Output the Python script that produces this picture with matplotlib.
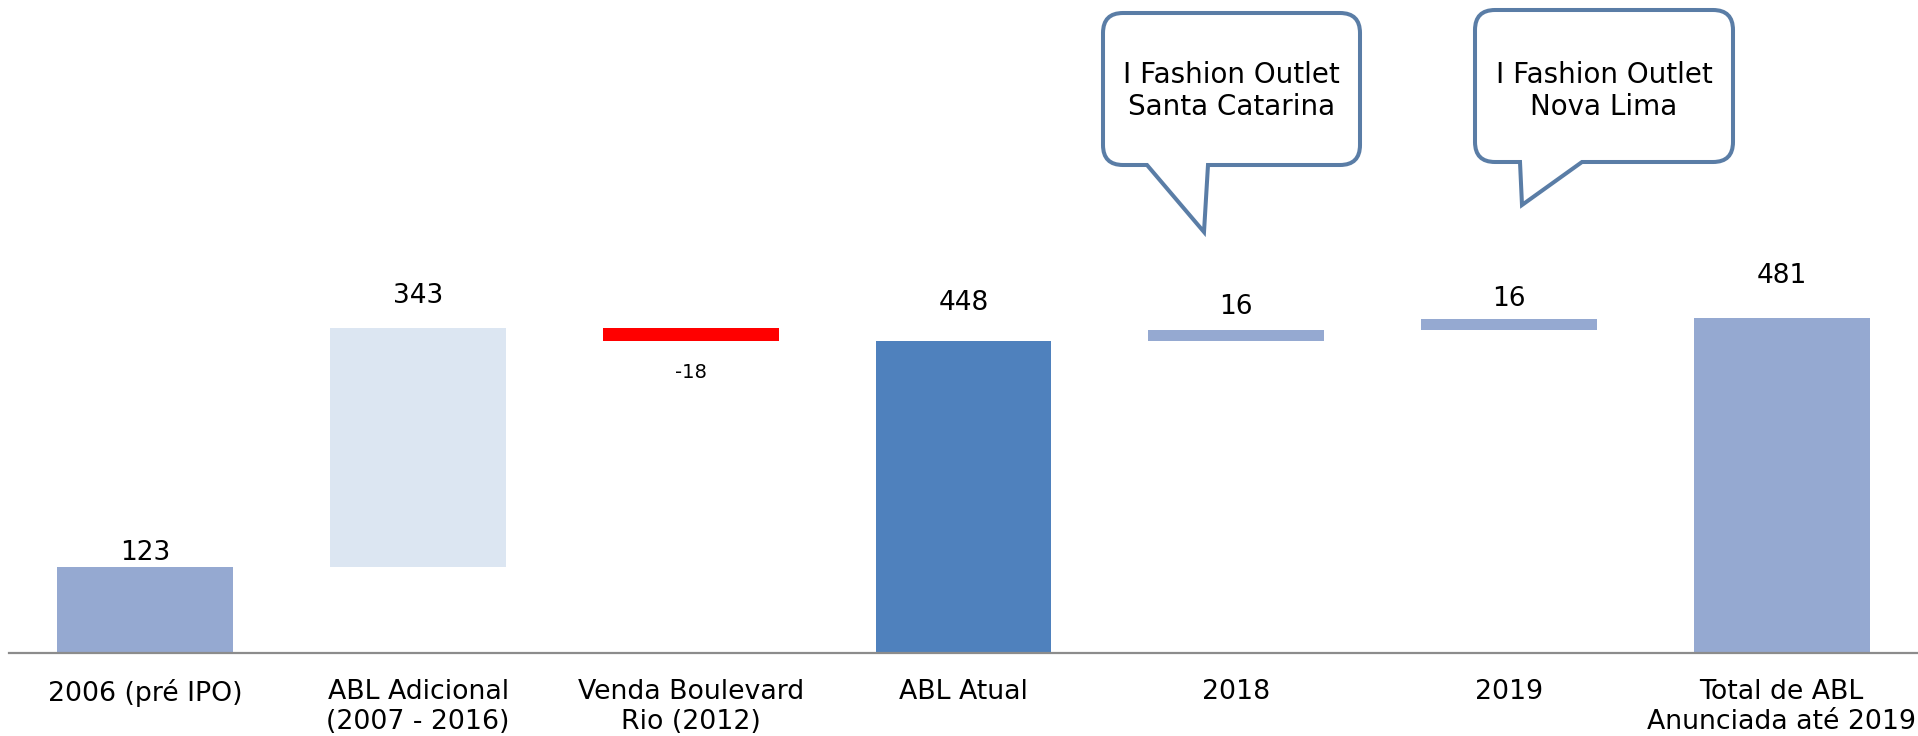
import numpy as np
import matplotlib.pyplot as plt
from matplotlib.path import Path
from matplotlib.patches import PathPatch

plt.rcParams['font.family'] = ['DejaVu Sans']

# dados
categorias = ['2006 (pré IPO)', 'ABL Adicional\n(2007 - 2016)', 'Venda Boulevard\nRio (2012)',
              'ABL Atual', '2018', '2019', 'Total de ABL\nAnunciada até 2019']
valores = [123, 343, -18, 448, 16, 16, 481]
tipo = ['total', 'delta', 'delta', 'total', 'delta', 'delta', 'total']
balao_textos = ['I Fashion Outlet\nSanta Catarina', 'I Fashion Outlet\nNova Lima']

# estilo
cores = ['#95A9D1', '#DCE6F2', '#FF0000', '#4F81BD', '#95A9D1', '#95A9D1', '#95A9D1']
gap_rotulo = [7, 25, -37, 31, 16, 13, 35]   # pixels entre barra e rótulo
fs_rotulo = [19, 19, 14, 19, 19, 19, 19]
cor_balao = '#5A7DA6'

W, H = 1918, 736
fig = plt.figure(figsize=(W / 100, H / 100), dpi=100)
ax = fig.add_axes([9 / W, (H - 653) / H, (W - 9) / W, 653 / H])

# waterfall
bases, alturas = [], []
acum = 0
for v, t in zip(valores, tipo):
    if t == 'total':
        bases.append(0)
        alturas.append(v)
        acum = v
    else:
        bases.append(acum if v > 0 else acum + v)
        alturas.append(abs(v))
        acum += v

x = np.arange(len(valores))
ax.bar(x, alturas, bottom=bases, width=0.645, color=cores)

for i, v in enumerate(valores):
    y = bases[i] + alturas[i] if v >= 0 else bases[i]
    ax.annotate(str(v), xy=(i, y), xytext=(0, gap_rotulo[i]), textcoords='offset pixels',
                ha='center', va='baseline', fontsize=fs_rotulo[i], color='black')

ax.set_xlim(-0.5, 6.5)
ax.set_ylim(0, 653 / 0.6966)
ax.set_xticks(x, categorias, fontsize=19.3)
ax.tick_params(axis='x', length=0, pad=18.5)
ax.set_yticks([])
for s in ['top', 'right', 'left']:
    ax.spines[s].set_visible(False)
ax.spines['bottom'].set_color('#8C8C8C')
ax.spines['bottom'].set_linewidth(1.6)


def balao(caixa, cauda, texto, r=20):
    # caixa e cauda em pixels da figura (origem no canto superior esquerdo)
    x0, y0, x1, y1 = caixa
    bl, br, ponta = cauda
    pts = [(x0 + r, y0), (x1 - r, y0), (x1, y0), (x1, y0 + r), (x1, y1 - r), (x1, y1),
           (x1 - r, y1), (br, y1), ponta, (bl, y1), (x0 + r, y1), (x0, y1), (x0, y1 - r),
           (x0, y0 + r), (x0, y0), (x0 + r, y0), (x0 + r, y0)]
    codes = [Path.MOVETO, Path.LINETO, Path.CURVE3, Path.CURVE3, Path.LINETO, Path.CURVE3,
             Path.CURVE3, Path.LINETO, Path.LINETO, Path.LINETO, Path.LINETO, Path.CURVE3,
             Path.CURVE3, Path.LINETO, Path.CURVE3, Path.CURVE3, Path.CLOSEPOLY]
    pts = [(px / W, 1 - py / H) for px, py in pts]
    fig.patches.append(PathPatch(Path(pts, codes), transform=fig.transFigure,
                                 facecolor='white', edgecolor=cor_balao, lw=2.9,
                                 joinstyle='miter'))
    fig.text((x0 + x1) / 2 / W, 1 - 91 / H, texto, ha='center', va='center',
             fontsize=20, linespacing=1.2)


balao((1103, 13, 1360, 165), (1147, 1208, (1204, 232)), balao_textos[0])
balao((1475, 10, 1733, 162), (1520, 1582, (1522, 205)), balao_textos[1])

fig.savefig('out.png', dpi=100)
